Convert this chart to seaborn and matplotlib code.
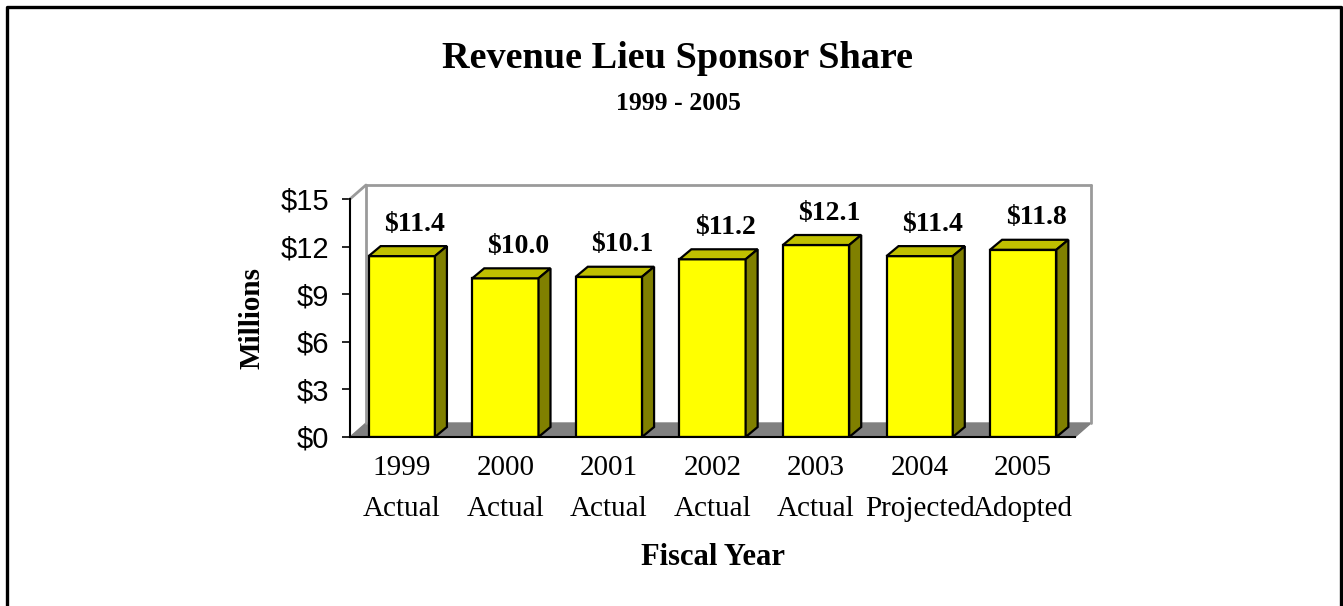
import numpy as np
import pandas as pd
import matplotlib
matplotlib.use("Agg")
import matplotlib.pyplot as plt
from matplotlib.patches import Polygon
from matplotlib.lines import Line2D
import seaborn as sns

# =========================
# DATA
# =========================

years = ["1999", "2000", "2001", "2002", "2003", "2004", "2005"]
status = ["Actual", "Actual", "Actual", "Actual", "Actual", "Projected", "Adopted"]
revenue = [11.4, 10.0, 10.1, 11.2, 12.1, 11.4, 11.8]
y_ticks = [0, 3, 6, 9, 12, 15]

df = pd.DataFrame({"year": years, "status": status, "revenue": revenue})

# =========================
# FIGURE
# =========================

sns.set_style("white")
plt.rcParams["font.family"] = ["Liberation Serif", "DejaVu Serif"]
plt.rcParams["text.color"] = "black"
plt.rcParams["axes.labelcolor"] = "black"
plt.rcParams["xtick.color"] = "black"
plt.rcParams["ytick.color"] = "black"

W, H = 1343, 606
fig = plt.figure(figsize=(W / 100, H / 100), dpi=100)
ax = fig.add_axes([350 / W, (H - 437) / H, (1075 - 350) / W, (437 - 199) / H])

sns.barplot(data=df, x="year", y="revenue", color="#FFFF00", width=0.64,
            edgecolor="black", linewidth=1.6, saturation=1, ax=ax, zorder=3)

ax.set_ylim(0, 15)
ax.set_xlim(-0.5, len(years) - 0.5)

# pixel -> data conversion for the 3D depth
px_x = (1075 - 350) / len(years)
px_y = (437 - 199) / 15.0

# back wall / floor offset (pixels)
wx, wy = 16 / px_x, 14 / px_y
x0, x1 = ax.get_xlim()
floor = Polygon([(x0, 0), (x0 + wx, wy), (x1 + wx, wy), (x1, 0)],
                closed=True, facecolor="#808080", edgecolor="#808080",
                lw=1, clip_on=False, zorder=1)
ax.add_patch(floor)
wall_col = "#9a9a9a"
for xs, ys in [([x0 + wx, x0 + wx], [wy, 15 + wy]),
               ([x0 + wx, x1 + wx], [15 + wy, 15 + wy]),
               ([x1 + wx, x1 + wx], [wy, 15 + wy]),
               ([x0, x0 + wx], [15, 15 + wy])]:
    ax.add_line(Line2D(xs, ys, color=wall_col, lw=2, clip_on=False, zorder=1))

# bar depth (pixels)
bx, by = 12 / px_x, 10 / px_y
for p in ax.patches[:]:
    if p is floor:
        continue
    xl = p.get_x()
    xr = xl + p.get_width()
    h = p.get_height()
    top = Polygon([(xl, h), (xl + bx, h + by), (xr + bx, h + by), (xr, h)],
                  closed=True, facecolor="#C0C000", edgecolor="black",
                  lw=1.6, clip_on=False, zorder=3)
    side = Polygon([(xr, 0), (xr, h), (xr + bx, h + by), (xr + bx, by)],
                   closed=True, facecolor="#808000", edgecolor="black",
                   lw=1.6, clip_on=False, zorder=3)
    ax.add_patch(top)
    ax.add_patch(side)

# value labels
for i, v in enumerate(revenue):
    ax.annotate(f"${v:.1f}", xy=(i, v), xytext=(13 / 1.389, 32 / 1.389),
                textcoords="offset points", ha="center", va="center",
                fontsize=20, fontweight="bold", zorder=4)

# =========================
# AXES STYLING
# =========================

sns.despine(ax=ax, top=True, right=True)
ax.spines["left"].set_color("black")
ax.spines["left"].set_linewidth(1.5)
ax.spines["bottom"].set_color("black")
ax.spines["bottom"].set_linewidth(1.5)
ax.spines["left"].set_zorder(5)
ax.spines["bottom"].set_zorder(5)

ax.set_yticks(y_ticks)
ax.set_yticklabels([f"${t}" for t in y_ticks], fontfamily="Liberation Sans",
                   fontsize=21)
ax.tick_params(axis="y", direction="out", length=6, width=1.2,
               color="black", pad=9, left=True)
ax.tick_params(axis="x", length=0, pad=13)
ax.set_xticks(range(len(years)))
ax.set_xticklabels([f"{y}\n{s}" for y, s in zip(years, status)],
                   fontsize=21, linespacing=1.75)

ax.set_xlabel("Fiscal Year", fontsize=22, fontweight="bold", labelpad=15)
ax.set_ylabel("Millions", fontsize=21, fontweight="bold", labelpad=11)
ax.set_facecolor("white")

# titles
fig.text(678 / W, 1 - 58 / H, "Revenue Lieu Sponsor Share", ha="center",
         va="center", fontsize=27.5, fontweight="bold")
fig.text(678 / W, 1 - 104 / H, "1999 - 2005", ha="center", va="center",
         fontsize=18.5, fontweight="bold")

# outer border (open at the bottom)
fig.add_artist(Line2D([6.5 / W, 6.5 / W, 1340.5 / W, 1340.5 / W],
                      [0, 1 - 6.5 / H, 1 - 6.5 / H, 0],
                      transform=fig.transFigure, color="black", lw=2.4))

fig.savefig("out.png", dpi=100, facecolor="white")
